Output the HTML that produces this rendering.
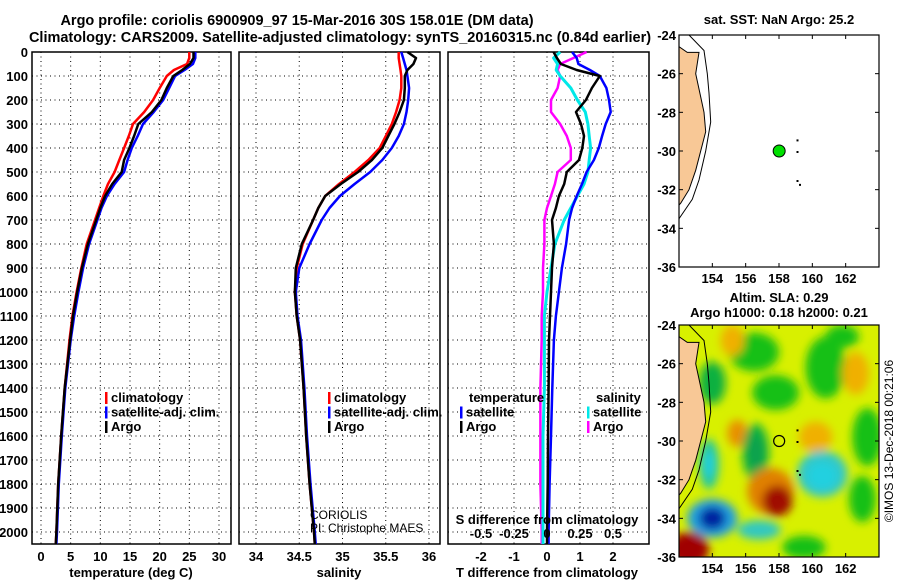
<!DOCTYPE html>
<html><head><meta charset="utf-8"><style>
body{margin:0;background:#fff;}
svg{display:block;font-family:"Liberation Sans",sans-serif;font-weight:bold;}
</style></head><body>
<svg id="fig" width="900" height="580" viewBox="0 0 900 580" xmlns="http://www.w3.org/2000/svg">
<text x="297" y="25" font-size="14.5" text-anchor="middle">Argo profile: coriolis 6900909_97 15-Mar-2016 30S 158.01E (DM data)</text>
<text x="340" y="42" font-size="14.5" text-anchor="middle">Climatology: CARS2009. Satellite-adjusted climatology: synTS_20160315.nc (0.84d earlier)</text>
<g id="p1"></g>
<g id="p2"></g>
<g id="p3"></g>
<g id="m1"></g>
<g id="m2"></g>
</svg>
<script>
const depths=[0,25,50,75,100,150,200,250,300,350,400,450,500,550,600,650,700,800,900,1000,1100,1200,1400,1600,1800,2000,2050];
const tempClim=[25,25,24.6,22.4,21.2,20.0,18.9,17.4,15.5,14.8,14.0,13.2,12.4,11.3,10.5,9.8,9.1,7.7,6.8,6.0,5.3,4.8,4.0,3.4,2.9,2.6,2.5];
const tempArgo=[25.7,25.7,25.1,23.8,22.3,21.2,20.3,18.7,16.4,15.7,14.9,14.0,13.6,12.0,10.8,10.0,9.3,7.9,6.9,6.1,5.4,4.9,4.0,3.4,2.9,2.6,2.5];
const tempSat=[26.0,26.0,25.6,24.2,22.6,21.6,20.6,19.0,17.2,16.3,15.3,14.6,14.0,12.4,11.1,10.2,9.5,8.1,7.1,6.3,5.6,5.0,4.1,3.5,3.0,2.7,2.6];
const salClim=[35.65,35.65,35.66,35.67,35.68,35.68,35.66,35.62,35.57,35.50,35.43,35.30,35.14,34.96,34.80,34.72,34.66,34.54,34.47,34.45,34.47,34.51,34.55,34.58,34.62,34.67,34.68];
const salArgo=[35.75,35.85,35.82,35.75,35.72,35.72,35.71,35.66,35.60,35.53,35.46,35.34,35.18,34.98,34.80,34.72,34.66,34.53,34.46,34.45,34.47,34.51,34.55,34.58,34.62,34.67,34.68];
const salSat=[35.68,35.70,35.72,35.74,35.75,35.77,35.76,35.74,35.71,35.65,35.57,35.46,35.32,35.14,34.97,34.85,34.76,34.62,34.50,34.46,34.48,34.52,34.56,34.59,34.63,34.68,34.69];
const tDiffArgo=[0.2,0.3,0.42,0.9,1.6,1.36,1.18,0.88,1.03,1.12,1.07,0.97,0.6,0.52,0.36,0.27,0.15,0.21,0.15,0.12,0.09,0.06,0.05,0.03,0.02,0,0];
const tDiffSat=[0.76,0.9,0.95,1.3,1.6,1.8,1.88,1.93,1.78,1.67,1.57,1.42,1.2,1.06,0.9,0.76,0.67,0.58,0.45,0.36,0.27,0.21,0.16,0.12,0.08,0.05,0.05];
const sDiffArgo=[0.3,0.2,0.1,0.08,0.1,0.08,0.03,0.03,0.1,0.15,0.18,0.18,0.08,0.06,0.03,0,-0.02,-0.02,-0.03,-0.03,-0.04,-0.04,-0.05,-0.05,-0.05,-0.04,-0.04];
const sDiffSat=[0.1,0.05,0.08,0.07,0.1,0.18,0.23,0.29,0.31,0.32,0.33,0.32,0.31,0.28,0.23,0.18,0.13,0.06,0.03,0,-0.02,-0.02,-0.02,-0.03,-0.03,-0.03,-0.03];
const depthTicks=[0,100,200,300,400,500,600,700,800,900,1000,1100,1200,1300,1400,1500,1600,1700,1800,1900,2000];
const tempTicks=[0,5,10,15,20,25,30];
const salTicks=[34,34.5,35,35.5,36];
const salTickLabels=["34","34.5","35","35.5","36"];
const tdTicks=[-2,-1,0,1,2];
const sdTicks=[-0.5,-0.25,0,0.25,0.5];
const sdTickLabels=["-0.5","-0.25","0","0.25","0.5"];
const mapLonTicks=[154,156,158,160,162];
const mapLatTicks=[-24,-26,-28,-30,-32,-34,-36];
const argoLon=158.01, argoLat=-30;
// SLA blobs: lon, lat, rx(deg), ry(deg), color
const slaLon=[156.5,160.8,157.8,154.0,155.2,162.6,155.5,160.2,156.6,153.8,160.6,157.5,157.9,154.0,154.0,156.8,152.6,163.3,163.0,159.5,161.8,156.6,153.8,160.6];
const slaLat=[-25.4,-26.2,-27.5,-27.0,-24.8,-26.5,-29.6,-29.8,-30.6,-31.2,-31.7,-32.6,-33.1,-34.0,-34.0,-34.6,-35.6,-29.8,-33.0,-35.5,-24.6,-30.6,-31.2,-31.8];
const slaRx=[1.5,1.2,1.4,0.8,0.7,0.8,0.6,1.0,0.8,0.6,1.5,1.4,0.9,1.5,0.8,1.3,1.2,0.9,0.8,1.3,1.0,0.4,0.3,0.9];
const slaRy=[1.0,1.6,0.9,1.1,0.8,1.1,0.7,0.8,1.5,1.3,1.2,1.2,0.8,1.0,0.6,0.5,0.9,1.5,1.2,0.6,0.6,0.9,0.7,0.7];
const slaCol=["#18c018","#18c018","#18c018","#10b040","#f0b000","#f0b000","#e89000","#f0b000","#10b040","#20c8a0","#30c8c8","#e08000","#a00800","#20a0e0","#0020a0","#30c8c0","#a00000","#18c018","#18c018","#18c018","#18c018","#10a050","#20d0e0","#20d0e0"];
const landLon=[152,152.5,153.2,153.0,153.3,153.5,153.6,153.3,153.0,152.6,152.1,152];
const landLat=[-24.6,-24.9,-24.9,-26,-27.2,-28,-29,-30,-31,-32,-32.7,-32.8];
const contourLon=[152.6,153.5,153.7,153.8,153.9,153.6,153.2,152.8,152.0];
const contourLat=[-24,-24.8,-26,-27,-28.5,-30,-31.5,-32.5,-33.5];

const NS="http://www.w3.org/2000/svg";
function mk(parent,tag,attrs,text){const e=document.createElementNS(NS,tag);for(const k in attrs)e.setAttribute(k,attrs[k]);if(text!==undefined)e.textContent=text;parent.appendChild(e);return e;}
const top0=52,bot=544;
const yD=d=>top0+d*0.24;

function panel(g,L,R,xs,xTicks,xLabels,showDepth){
  for(const d of depthTicks){
    if(d>0){const l=mk(g,'line',{x1:L,x2:R,y1:yD(d),y2:yD(d),stroke:'#000','stroke-dasharray':'1 3.5','stroke-width':1});
    
    }
    if(showDepth){const t=mk(g,'text',{x:L-4,y:yD(d)+5,'font-size':13,'text-anchor':'end'},String(d));
    
    }
  }
  xTicks.forEach((v,i)=>{
    const l=mk(g,'line',{x1:xs(v),x2:xs(v),y1:top0,y2:bot,stroke:'#000','stroke-dasharray':'1 3.5','stroke-width':1});
    
    
    const t=mk(g,'text',{x:xs(v),y:561,'font-size':13,'text-anchor':'middle'},xLabels[i]);
    
    
  });
  const r=mk(g,'rect',{x:L,y:top0,width:R-L,height:bot-top0,fill:'none',stroke:'#000','stroke-width':1.5});
  
  
}
function series(g,xs,vals,color,name,w){
  const pts=vals.map((v,i)=>xs(v).toFixed(1)+','+yD(depths[i]).toFixed(1)).join(' ');
  const p=mk(g,'polyline',{points:pts,fill:'none',stroke:color,'stroke-width':w||2.5,'stroke-linejoin':'round'});
  
  
}
function legend(g,x,y,items){
  items.forEach((it,i)=>{
    const m=mk(g,'rect',{x:x,y:y+i*14.5-10,width:2.5,height:12,fill:it[1]});
    
    
    const t=mk(g,'text',{x:x+6,y:y+i*14.5,'font-size':13},it[0]);
    
    
  });
}
function txt(g,x,y,s,size,anchor,name,extra){
  const t=mk(g,'text',Object.assign({x:x,y:y,'font-size':size,'text-anchor':anchor||'start'},extra||{}),s);
  
  
  return t;
}
// Panel 1
const p1=document.getElementById('p1');
const xT=v=>41+v*5.933;
panel(p1,32,231,xT,tempTicks,tempTicks.map(String),true);
series(p1,xT,tempClim,'#ff0000','temp-climatology-line');
series(p1,xT,tempSat,'#0000ff','temp-satellite-line');
series(p1,xT,tempArgo,'#000000','temp-argo-line');
legend(p1,105,402,[['climatology','#ff0000'],['satellite-adj. clim.','#0000ff'],['Argo','#000']]);
txt(p1,131,577,'temperature (deg C)',13,'middle','x-axis-title');
// Panel 2
const p2=document.getElementById('p2');
const xS=v=>256+(v-34)*86.5;
panel(p2,239,440,xS,salTicks,salTickLabels,false);
series(p2,xS,salClim,'#ff0000','sal-climatology-line');
series(p2,xS,salSat,'#0000ff','sal-satellite-line');
series(p2,xS,salArgo,'#000000','sal-argo-line');
legend(p2,328,402,[['climatology','#ff0000'],['satellite-adj. clim.','#0000ff'],['Argo','#000']]);
txt(p2,310,519,'CORIOLIS',12,'start','institution-label',{'font-weight':'normal'});
txt(p2,310,532,'PI: Christophe MAES',12,'start','pi-label',{'font-weight':'normal'});
txt(p2,339,577,'salinity',13,'middle','x-axis-title');
// Panel 3
const p3=document.getElementById('p3');
const xTD=v=>547+v*33, xSD=v=>547+v*132;
panel(p3,448,649,xTD,tdTicks,tdTicks.map(String),false);
series(p3,xSD,sDiffArgo,'#ff00ff','sdiff-argo-line');
series(p3,xSD,sDiffSat,'#00e8e8','sdiff-satellite-line',3);
series(p3,xTD,tDiffSat,'#0000ff','tdiff-satellite-line');
series(p3,xTD,tDiffArgo,'#000000','tdiff-argo-line');
txt(p3,469,402,'temperature',13,'start','legend-title');
legend(p3,460,416.5,[['satellite','#0000ff'],['Argo','#000']]);
txt(p3,596,402,'salinity',13,'start','legend-title');
legend(p3,587,416.5,[['satellite','#00e8e8'],['Argo','#ff00ff']]);
txt(p3,547,524,'S difference from climatology',13,'middle','s-axis-title');
sdTicks.forEach((v,i)=>{txt(p3,xSD(v),538,sdTickLabels[i],13,'middle','s-tick-label');});
txt(p3,547,577,'T difference from climatology',13,'middle','x-axis-title');

// Maps
function mapFrame(g,T,B){
  const L=679,R=879;
  const X=lon=>L+(lon-152)*(R-L)/12, Y=lat=>T+(-24-lat)*(B-T)/12;
  const clipId='clip'+T;
  const cp=mk(g,'clipPath',{id:clipId});mk(cp,'rect',{x:L,y:T,width:R-L,height:B-T});
  const inner=mk(g,'g',{'clip-path':'url(#'+clipId+')'});
  
  
  return {L,R,X,Y,inner,T,B};
}
function mapAxes(g,f){
  mapLatTicks.forEach(lat=>{txt(g,f.L-3,f.Y(lat)+5,String(lat),13,'end','lat-tick-label');
    mk(g,'line',{x1:f.L,x2:f.L+4,y1:f.Y(lat),y2:f.Y(lat),stroke:'#000'});
    mk(g,'line',{x1:f.R,x2:f.R-4,y1:f.Y(lat),y2:f.Y(lat),stroke:'#000'});});
  mapLonTicks.forEach(lon=>{txt(g,f.X(lon),f.B+16,String(lon),13,'middle','lon-tick-label');
    mk(g,'line',{x1:f.X(lon),x2:f.X(lon),y1:f.T,y2:f.T+4,stroke:'#000'});
    mk(g,'line',{x1:f.X(lon),x2:f.X(lon),y1:f.B,y2:f.B-4,stroke:'#000'});});
  const r=mk(g,'rect',{x:f.L,y:f.T,width:f.R-f.L,height:f.B-f.T,fill:'none',stroke:'#000','stroke-width':1.2});
  
  
}
function coast(f){
  const lp=landLon.map((v,i)=>f.X(v).toFixed(1)+','+f.Y(landLat[i]).toFixed(1)).join(' ');
  const land=mk(f.inner,'polygon',{points:lp,fill:'#f8c896',stroke:'#000','stroke-width':1});
  
  
  const cp=contourLon.map((v,i)=>f.X(v).toFixed(1)+','+f.Y(contourLat[i]).toFixed(1)).join(' ');
  const c=mk(f.inner,'polyline',{points:cp,fill:'none',stroke:'#000','stroke-width':1});
  
  
  [[159.05,-29.4],[159.05,-30],[159.05,-31.5],[159.2,-31.7]].forEach(p=>mk(f.inner,'rect',{x:f.X(p[0]),y:f.Y(p[1]),width:2,height:2,fill:'#000'}));
}
const m1=document.getElementById('m1');
txt(m1,779,24,'sat. SST: NaN Argo: 25.2',13,'middle','sst-map-title');
const f1=mapFrame(m1,35,267);
coast(f1);
const d1=mk(f1.inner,'circle',{cx:f1.X(argoLon),cy:f1.Y(argoLat),r:6,fill:'#00e000',stroke:'#000','stroke-width':1});


mapAxes(m1,f1);

const m2=document.getElementById('m2');
txt(m2,779,302,'Altim. SLA: 0.29',13,'middle','sla-map-title');
txt(m2,779,317,'Argo h1000: 0.18 h2000: 0.21',13,'middle','argo-height-title');
const f2=mapFrame(m2,325,557);
const flt=mk(m2,'filter',{id:'blur',x:'-50%',y:'-50%',width:'200%',height:'200%'});mk(flt,'feGaussianBlur',{stdDeviation:4.5});
mk(f2.inner,'rect',{x:f2.L,y:f2.T,width:200,height:232,fill:'#d8f000'});
const bl=mk(f2.inner,'g',{filter:'url(#blur)'});
slaLon.forEach((lon,i)=>{
  const e=mk(bl,'ellipse',{cx:f2.X(lon),cy:f2.Y(slaLat[i]),rx:slaRx[i]*16.7,ry:slaRy[i]*19.3,fill:slaCol[i]});
  
  
});
coast(f2);
const d2=mk(f2.inner,'circle',{cx:f2.X(argoLon),cy:f2.Y(argoLat),r:5.5,fill:'none',stroke:'#000','stroke-width':1.2});


mapAxes(m2,f2);
txt(m2,893,441,'©IMOS 13-Dec-2018 00:21:06',12,'middle','imos-stamp',{'font-weight':'normal',transform:'rotate(-90 893 441)'});
</script>
</body></html>
